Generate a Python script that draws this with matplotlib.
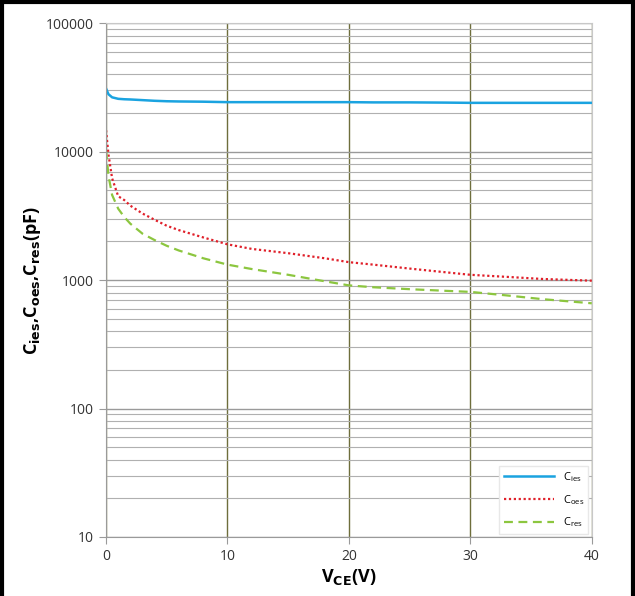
import matplotlib
matplotlib.use("Agg")
import matplotlib.pyplot as plt
from matplotlib.lines import Line2D
from matplotlib.ticker import FixedLocator, NullFormatter

plt.rcParams['font.family'] = ['Open Sans', 'DejaVu Sans']

vce = [0, 0.2, 0.5, 1, 1.5, 2, 3, 4, 5, 6, 8, 10, 12, 15, 18, 20, 22, 25, 28, 30, 33, 36, 40]
cies = [31000, 28000, 26500, 25800, 25600, 25500, 25200, 24900, 24700, 24600, 24500, 24300, 24300, 24300, 24300, 24300, 24200, 24200, 24100, 24000, 24000, 24000, 24000]
coes = [14700, 9500, 6200, 4500, 4200, 3800, 3300, 2950, 2650, 2450, 2150, 1900, 1750, 1620, 1480, 1380, 1320, 1230, 1150, 1100, 1060, 1020, 990]
cres = [10200, 6500, 4600, 3600, 3100, 2750, 2300, 2050, 1850, 1700, 1480, 1320, 1220, 1100, 980, 910, 880, 850, 825, 810, 760, 710, 660]

xticks = [0, 10, 20, 30, 40]
yticks = [10, 100, 1000, 10000, 100000]
ytick_labels = ['10', '100', '1000', '10000', '100000']

fig = plt.figure(figsize=(6.35, 5.96), dpi=100)
ax = fig.add_axes([0.167, 0.099, 0.765, 0.862])

ax.set_yscale('log')
ax.set_xlim(0, 40)
ax.set_ylim(10, 100000)

minor = [m * 10 ** e for e in range(1, 5) for m in range(2, 10)]
ax.yaxis.set_minor_locator(FixedLocator(minor))
ax.yaxis.set_minor_formatter(NullFormatter())
ax.set_yticks(yticks)
ax.set_yticklabels(ytick_labels)
ax.set_xticks(xticks)
ax.set_xticklabels([str(v) for v in xticks])

ax.grid(True, which='major', axis='y', color='#9a9a9a', lw=1.0)
ax.grid(True, which='minor', axis='y', color='#b0b0b0', lw=0.8)
ax.grid(True, which='major', axis='x', color='#6e6e3c', lw=1.0)
ax.set_axisbelow(True)

for s in ['left', 'bottom']:
    ax.spines[s].set_color('#9a9a9a')
for s in ['top', 'right']:
    ax.spines[s].set_color('#c8c8c8')

ax.tick_params(axis='both', which='major', direction='out', length=5, color='#9a9a9a',
               labelsize=10, labelcolor='#333333', pad=4)
ax.tick_params(axis='y', which='minor', length=0)

ax.plot(vce, cies, color='#1aa3e0', lw=1.8, label='C$_{\\mathregular{ies}}$')
ax.plot(vce, coes, color='#e0202a', lw=1.6, ls=(0, (1, 1.2)), label='C$_{\\mathregular{oes}}$')
ax.plot(vce, cres, color='#8cc63f', lw=1.6, ls=(0, (4, 2.5)), label='C$_{\\mathregular{res}}$')

ax.set_xlabel('V$_{\\mathbf{CE}}$(V)', fontsize=13, fontweight='bold', labelpad=2)
ax.set_ylabel('C$_{\\mathbf{ies}}$,C$_{\\mathbf{oes}}$,C$_{\\mathbf{res}}$(pF)', fontsize=13,
              fontweight='bold', labelpad=2)

leg = ax.legend(loc='lower right', fontsize=8, frameon=True, fancybox=False,
                edgecolor='#e8e8e8', facecolor='white', framealpha=1,
                handlelength=4.5, borderaxespad=0.3, labelspacing=0.8)

# figure border (left, top, right)
fig.add_artist(Line2D([0.003, 0.003], [0, 0.997], transform=fig.transFigure, color='black', lw=3))
fig.add_artist(Line2D([0.0, 1.0], [0.996, 0.996], transform=fig.transFigure, color='black', lw=3))
fig.add_artist(Line2D([0.997, 0.997], [0, 0.997], transform=fig.transFigure, color='black', lw=3))

fig.savefig('out.png', dpi=100)
